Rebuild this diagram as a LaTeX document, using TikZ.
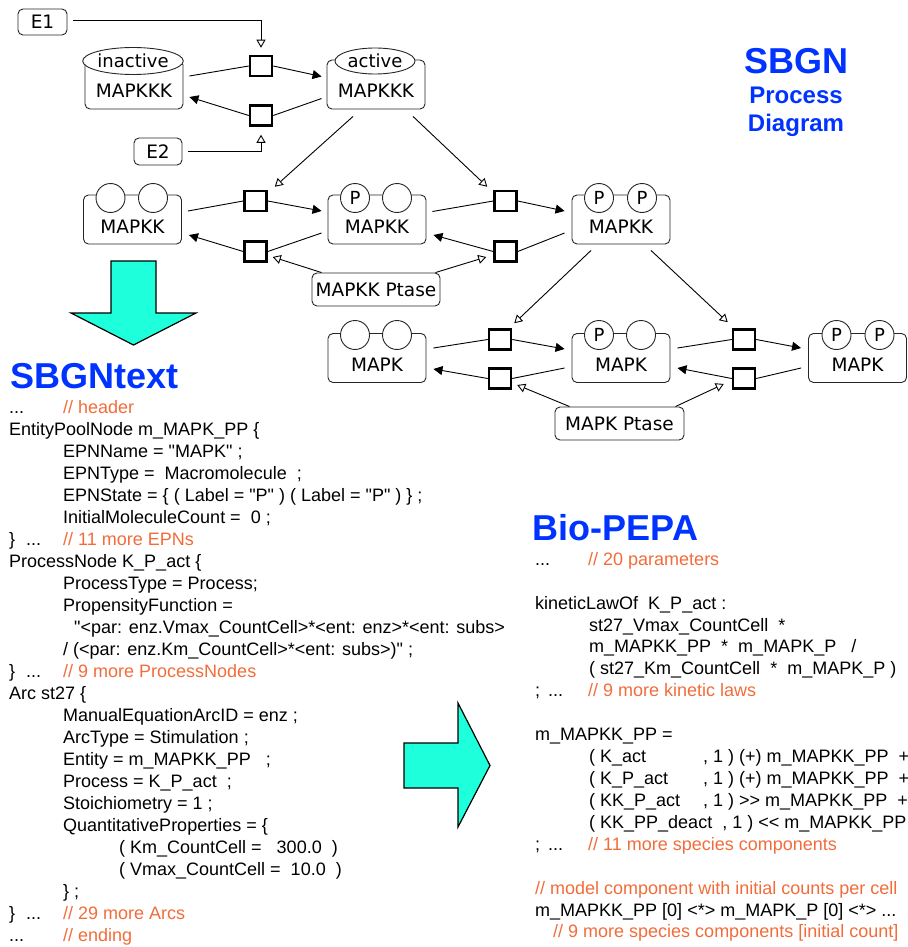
\documentclass[tikz,border=0pt]{standalone}
\usepackage{fontspec}
\setmainfont{Liberation Sans}
\newfontfamily\codefont[Ligatures=TeXOff]{Liberation Sans}
\newfontfamily\glyphfont{DejaVu Sans}
\usetikzlibrary{arrows.meta,shapes.geometric,calc}

\definecolor{titleblue}{RGB}{0,51,255}
\definecolor{commentorange}{RGB}{242,108,58}
\definecolor{bigarrow}{RGB}{30,255,220}

\tikzset{
  epn/.style={draw=black!85, line width=0.9pt, rounded corners=5pt,
    minimum width=98pt, minimum height=49pt, inner sep=0pt},
  tagell/.style={ellipse, draw=black!85, line width=0.9pt, fill=white,
    minimum width=78pt, minimum height=27pt, inner sep=0pt,
    font=\glyphfont\fontsize{18}{19}\selectfont},
  svar/.style={circle, draw=black!85, line width=0.9pt, fill=white,
    minimum size=29pt, inner sep=0pt,
    font=\glyphfont\fontsize{18}{19}\selectfont},
  lbl/.style={inner sep=0pt, font=\glyphfont\fontsize{18.5}{19}\selectfont},
  enz/.style={draw=black!85, line width=0.9pt, rounded corners=5pt,
    inner sep=0pt, font=\glyphfont\fontsize{18.5}{19}\selectfont},
  pnode/.style={draw, line width=2.5pt, minimum width=22pt,
    minimum height=20pt, inner sep=0pt},
  conv/.style={line width=0.9pt},
  prod/.style={conv, -{Triangle[length=9pt,width=9pt]}},
  stim/.style={conv, -{Triangle[open,length=8pt,width=9pt,fill=white]}},
  bigarr/.style={fill=bigarrow, draw=black, line width=1.2pt, line join=miter},
  ttl/.style={inner sep=0pt, text=titleblue, font=\bfseries\fontsize{36}{40}\selectfont},
  subttl/.style={inner sep=0pt, anchor=base, text=titleblue, font=\bfseries\fontsize{24}{28}\selectfont},
  code/.style={anchor=base west, inner sep=0pt, font=\codefont\fontsize{18}{22}\selectfont},
  cmt/.style={code, text=commentorange},
}

\begin{document}
\begin{tikzpicture}[x=1pt, y=-1pt]
\useasboundingbox (0,0) rectangle (907,947);

% ---------------- MAPKKK cycle ----------------
\node[epn] (kkk0) at (134,84.5) {};
\node[tagell] (kkk0t) at (133,61) {inactive};
\node[lbl] (kkk0l) at (134,91) {MAPKKK};
\node[epn] (kkk1) at (376,84.5) {};
\node[tagell, minimum width=80pt, minimum height=26pt] (kkk1t) at (375,61) {active};
\node[lbl] (kkk1l) at (376,91) {MAPKKK};

\node[pnode] (pa) at (261,66) {};
\node[pnode] (pb) at (261,115.5) {};

\node[enz, minimum width=49pt, minimum height=26pt] (e1) at (42.5,22) {E1};
\node[enz, minimum width=48pt, minimum height=27pt] (e2) at (158,151.5) {E2};

\draw[conv] ([xshift=6pt,yshift=8.5pt]kkk0.east) -- (pa.west);
\draw[prod] (pa.east) -- ([xshift=-5pt,yshift=8pt]kkk1.west);
\draw[conv] ([xshift=-5pt,yshift=-14pt]kkk1.west) -- (pb.east);
\draw[prod] (pb.west) -- ([xshift=6pt,yshift=-12.5pt]kkk0.east);

\coordinate (e1o) at ([xshift=6pt,yshift=2pt]e1.east);
\draw[stim] (e1o) -- (e1o -| pa.north) -- ([yshift=7pt]pa.north);
\coordinate (e2o) at ([xshift=6pt]e2.east);
\draw[stim] (e2o) -- (e2o -| pb.south) -- ([yshift=-8pt]pb.south);

% ---------------- MAPKK cycle ----------------
\node[epn] (kk0) at (132.5,219.5) {};
\node[svar] (kk0a) at (110.5,198) {};
\node[svar] (kk0b) at (153,198) {};
\node[lbl] (kk0l) at (132.5,227) {MAPKK};

\node[epn] (kk1) at (377,219.5) {};
\node[svar] (kk1a) at (355,198) {P};
\node[svar] (kk1b) at (397,198) {};
\node[lbl] (kk1l) at (377,227) {MAPKK};

\node[epn] (kk2) at (621,219.5) {};
\node[svar] (kk2a) at (599,198) {P};
\node[svar] (kk2b) at (642,198) {P};
\node[lbl] (kk2l) at (621,227) {MAPKK};

\node[pnode] (pc) at (255.5,201) {};
\node[pnode] (pd) at (255.5,251.5) {};
\node[pnode] (pe) at (505.5,201) {};
\node[pnode] (pf) at (505.5,251.5) {};

\node[enz, minimum width=128pt, minimum height=33pt] (kkp) at (376,289.5) {MAPKK Ptase};

\draw[stim] ([xshift=-23pt,yshift=-7pt]kkk1.south) -- ([xshift=7pt,yshift=3pt]pc.north east);
\draw[stim] ([xshift=37pt,yshift=-7pt]kkk1.south) -- ([xshift=-6pt,yshift=3pt]pe.north west);

\draw[conv] ([xshift=6pt,yshift=8.5pt]kk0.east) -- (pc.west);
\draw[prod] (pc.east) -- ([xshift=-6pt,yshift=8.5pt]kk1.west);
\draw[conv] ([xshift=-6pt,yshift=-13.5pt]kk1.west) -- (pd.east);
\draw[prod] (pd.west) -- ([xshift=7pt,yshift=-15.5pt]kk0.east);
\draw[conv] ([xshift=6pt,yshift=8pt]kk1.east) -- (pe.west);
\draw[prod] (pe.east) -- ([xshift=-7pt,yshift=8.5pt]kk2.west);
\draw[conv] ([xshift=-7pt,yshift=-13.5pt]kk2.west) -- (pf.east);
\draw[prod] (pf.west) -- ([xshift=7pt,yshift=-15.5pt]kk1.east);

\draw[stim] ([xshift=10pt]kkp.north west) -- ([xshift=5pt,yshift=-5.5pt]pd.east);
\draw[stim] ([xshift=-5pt]kkp.north east) -- ([xshift=-7pt,yshift=-5.5pt]pf.west);

% ---------------- MAPK cycle ----------------
\node[epn] (k0) at (377,358) {};
\node[svar] (k0a) at (355,335) {};
\node[svar] (k0b) at (397,335) {};
\node[lbl] (k0l) at (377,365) {MAPK};

\node[epn] (k1) at (621,358) {};
\node[svar] (k1a) at (599,335) {P};
\node[svar] (k1b) at (641,335) {};
\node[lbl] (k1l) at (621,365) {MAPK};

\node[epn] (k2) at (857.5,358) {};
\node[svar] (k2a) at (836.5,335) {P};
\node[svar] (k2b) at (879.5,335) {P};
\node[lbl] (k2l) at (857.5,365) {MAPK};

\node[pnode] (pg) at (500,339.5) {};
\node[pnode] (ph) at (500,378.5) {};
\node[pnode] (pi) at (744,339.5) {};
\node[pnode] (pj) at (744,378.5) {};

\node[enz, minimum width=129pt, minimum height=33pt] (kp) at (619.5,423.5) {MAPK Ptase};

\draw[stim] ([xshift=-30pt,yshift=-6pt]kk2.south) -- ([xshift=2pt,yshift=5pt]pg.north east);
\draw[stim] ([xshift=30pt,yshift=-6pt]kk2.south) -- ([xshift=-4pt,yshift=6pt]pi.north west);

\draw[conv] ([xshift=7pt,yshift=10pt]k0.east) -- (pg.west);
\draw[prod] (pg.east) -- ([xshift=-7pt,yshift=9pt]k1.west);
\draw[conv] ([xshift=-7pt,yshift=-10pt]k1.west) -- (ph.east);
\draw[prod] (ph.west) -- ([xshift=7pt,yshift=-11pt]k0.east);
\draw[conv] ([xshift=7pt,yshift=10pt]k1.east) -- (pi.west);
\draw[prod] (pi.east) -- ([xshift=-7pt,yshift=10pt]k2.west);
\draw[conv] ([xshift=-7pt,yshift=-10pt]k2.west) -- (pj.east);
\draw[prod] (pj.west) -- ([xshift=7pt,yshift=-10pt]k1.east);

\draw[stim] ([xshift=15pt]kp.north west) -- ([xshift=5pt,yshift=-6.5pt]ph.east);
\draw[stim] ([xshift=-9pt]kp.north east) -- ([xshift=-8pt,yshift=-5.5pt]pj.west);

% ---------------- titles ----------------
\node[ttl, anchor=base] (sbgn) at (796,74) {SBGN};
\node[subttl] (proc) at (796,103) {Process};
\node[subttl] (diag) at (796,131.5) {Diagram};
\node[ttl, anchor=base west] (sbgntext) at (10.5,388) {SBGNtext};
\node[ttl, anchor=base west] (biopepa) at (532.5,540) {Bio-PEPA};

% ---------------- big arrows ----------------
\draw[bigarr] (111,261) -- (156,261) -- (156,313) -- (196,313) -- (133.5,345)
  -- (71,313) -- (111,313) -- cycle;
\draw[bigarr] (404,743) -- (458,743) -- (458,703) -- (490,765.5) -- (458,827)
  -- (458,788) -- (404,788) -- cycle;

% ---------------- SBGNtext listing ----------------
\node[code] (s0) at (9,413) {...};
\node[cmt] (s0c) at (63,413) {// header};
\node[code] (s1) at (9,435) {EntityPoolNode m\_MAPK\_PP \{};
\node[code] (s2) at (63,457) {EPNName = "MAPK" ;};
\node[code] (s3) at (63,479) {EPNType =\ \ Macromolecule\ \ ;};
\node[code] (s4) at (63,501) {EPNState = \{ ( Label = "P" ) ( Label = "P" ) \} ;};
\node[code] (s5) at (63,523) {InitialMoleculeCount =\ \ 0 ;};
\node[code] (s6) at (9,545) {\}\hspace{11pt}...};
\node[cmt] (s6c) at (63,545) {// 11 more EPNs};
\node[code] (s7) at (9,567) {ProcessNode K\_P\_act \{};
\node[code] (s8) at (63,589) {ProcessType = Process;};
\node[code] (s9) at (63,611) {PropensityFunction =};
\node[code] (s10) at (74,633) {"<par: enz.Vmax\_CountCell>*<ent: enz>*<ent: subs>};
\node[code] (s11) at (63,655) {/ (<par: enz.Km\_CountCell>*<ent: subs>)" ;};
\node[code] (s12) at (9,677) {\}\hspace{11pt}...};
\node[cmt] (s12c) at (63,677) {// 9 more ProcessNodes};
\node[code] (s13) at (9,699) {Arc st27 \{};
\node[code] (s14) at (63,721) {ManualEquationArcID = enz ;};
\node[code] (s15) at (63,743) {ArcType = Stimulation ;};
\node[code] (s16) at (63,765) {Entity = m\_MAPKK\_PP\ \ \ ;};
\node[code] (s17) at (63,787) {Process = K\_P\_act\ \ ;};
\node[code] (s18) at (63,809) {Stoichiometry = 1 ;};
\node[code] (s19) at (63,831) {QuantitativeProperties = \{};
\node[code] (s20) at (119,853) {( Km\_CountCell =\ \ \ 300.0\ \ )};
\node[code] (s21) at (119,875) {( Vmax\_CountCell =\ \ 10.0\ \ )};
\node[code] (s22) at (63,897) {\} ;};
\node[code] (s23) at (9,919) {\}\hspace{11pt}...};
\node[cmt] (s23c) at (63,919) {// 29 more Arcs};
\node[code] (s24) at (9,941) {...};
\node[cmt] (s24c) at (63,941) {// ending};

% ---------------- Bio-PEPA listing ----------------
\node[code] (b0) at (535,565) {...};
\node[cmt] (b0c) at (588,565) {// 20 parameters};
\node[code] (b2) at (535,609) {kineticLawOf\ \ K\_P\_act :};
\node[code] (b3) at (589,631) {st27\_Vmax\_CountCell\ \ *};
\node[code] (b4) at (589,652) {m\_MAPKK\_PP\ \ *\ \ m\_MAPK\_P\ \ \ /};
\node[code] (b5) at (589,674) {( st27\_Km\_CountCell\ \ *\ \ m\_MAPK\_P )};
\node[code] (b6) at (535,696) {;\hspace{8pt}...};
\node[cmt] (b6c) at (588,696) {// 9 more kinetic laws};
\node[code] (b8) at (535,740) {m\_MAPKK\_PP =};
\node[code] (b9) at (589,762) {( K\_act};
\node[code] (b9r) at (703,762) {, 1 ) (+) m\_MAPKK\_PP\ \ +};
\node[code] (b10) at (589,784) {( K\_P\_act};
\node[code] (b10r) at (703,784) {, 1 ) (+) m\_MAPKK\_PP\ \ +};
\node[code] (b11) at (589,806) {( KK\_P\_act};
\node[code] (b11r) at (703,806) {, 1 ) >> m\_MAPKK\_PP\ \ +};
\node[code] (b12) at (589,828) {( KK\_PP\_deact\ \ , 1 ) << m\_MAPKK\_PP};
\node[code] (b13) at (535,850) {;\hspace{8pt}...};
\node[cmt] (b13c) at (588,850) {// 11 more species components};
\node[cmt] (b15) at (535,894) {// model component with initial counts per cell};
\node[code] (b16) at (535,916) {m\_MAPKK\_PP [0] <*> m\_MAPK\_P [0] <*> ...};
\node[cmt] (b17) at (553,937) {// 9 more species components [initial count]};
\end{tikzpicture}
\end{document}
